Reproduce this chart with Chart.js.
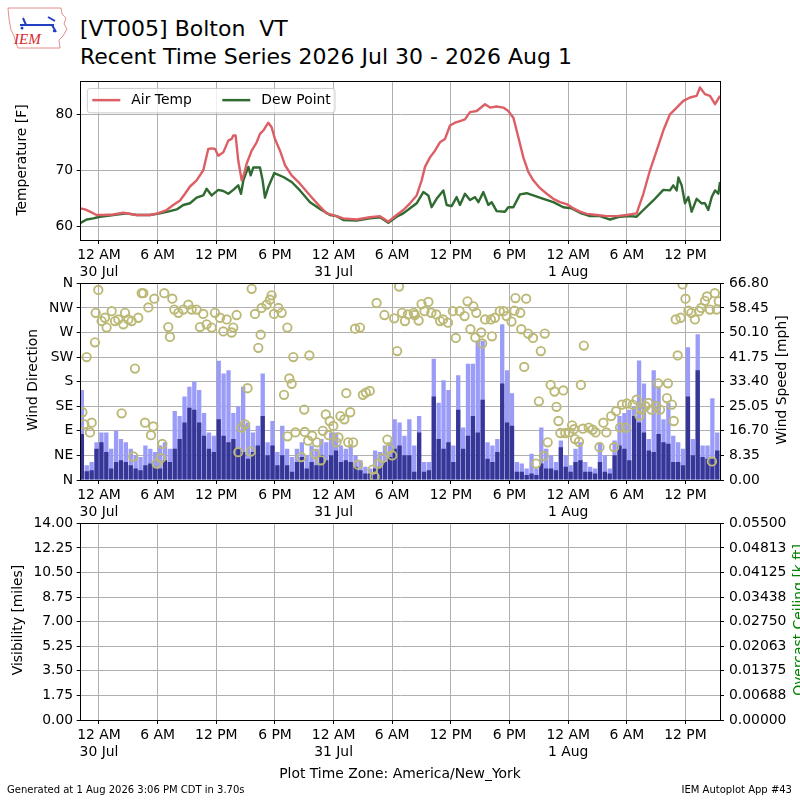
<!DOCTYPE html>
<html>
<head>
<meta charset="utf-8">
<script src="https://cdn.jsdelivr.net/npm/chart.js@4.4.1/dist/chart.umd.min.js"></script>
<style>
  body { margin: 0; background: #fff; width: 800px; height: 800px; position: relative; overflow: hidden; font-family: "DejaVu Sans", sans-serif; }
  canvas { position: absolute; left: 0; }
  .txt { position: absolute; white-space: pre; color: #000; line-height: 1; }
</style>
</head>
<body>
<svg style="position:absolute;left:6px;top:6px" width="64" height="46" viewBox="0 0 64 46">
  <path d="M2 2 L55 2 L56 8 L60 12 L58 18 L61 23 L57 30 L53 34 L54 42 L12 42 L10 37 L8 30 L5 24 L3 13 Z" fill="none" stroke="#e07070" stroke-width="0.8"/>
  <path d="M14 19 L48 19 M17 12 L20 19 M42 11 L49 15 M46 19 L50 26" stroke="#2040c0" stroke-width="2" fill="none"/>
  <circle cx="16" cy="22" r="1.5" fill="#2040c0"/>
  <circle cx="48" cy="25" r="1.2" fill="#2040c0"/>
  <text x="8" y="38" font-family="Liberation Serif" font-style="italic" font-size="15" fill="#d42a2a">IEM</text>
</svg>
<div class="txt" style="left:80px;top:18.1px;font-size:22px">[VT005] Bolton  VT</div>
<div class="txt" style="left:80px;top:45.7px;font-size:22px">Recent Time Series 2026 Jul 30 - 2026 Aug 1</div>
<canvas id="tempChart" width="800" height="220" style="top:70px"></canvas>
<canvas id="windChart" width="800" height="260" style="top:270px"></canvas>
<canvas id="visChart" width="800" height="290" style="top:510px"></canvas>
<div class="txt" style="left:0;width:800px;text-align:center;top:767px;font-size:13.9px">Plot Time Zone: America/New_York</div>
<div class="txt" style="left:7px;top:784.5px;font-size:10px">Generated at 1 Aug 2026 3:06 PM CDT in 3.70s</div>
<div class="txt" style="right:8px;top:784.5px;font-size:10px">IEM Autoplot App #43</div>
<script>
// x values are hours after 2026 Jul 30 12 AM (America/New_York)
const xMin = -1.87;
const xMax = 63.53;
const xTicks = [0, 6, 12, 18, 24, 30, 36, 42, 48, 54, 60];
const dayLabels = { 0: "30 Jul", 24: "31 Jul", 48: "1 Aug" };

// air temperature
const tempHours = [-1.88, -1.43, -0.92, -0.24, 0.44, 1.47, 2.49, 3.85, 5.22, 6.0, 6.92, 7.6, 8.29, 8.8, 9.31, 9.99,
  10.67, 11.18, 11.53, 11.87, 12.21, 12.72, 13.23, 13.57, 13.74, 13.98, 14.25, 14.6, 14.83, 15.11, 15.62, 16.13,
  16.47, 16.81, 17.32, 17.66, 18.0, 18.52, 19.03, 19.71, 20.56, 21.59, 22.61, 23.29, 23.97, 25.0, 26.36, 27.72,
  28.75, 29.6, 30.45, 31.13, 31.82, 32.5, 33.01, 33.35, 33.86, 34.37, 34.88, 35.4, 35.91, 36.42, 36.93, 37.44,
  37.95, 38.64, 39.49, 40.0, 40.68, 41.36, 41.87, 42.39, 42.9, 43.41, 43.92, 44.43, 45.12, 45.8, 46.48, 47.16,
  47.91, 48.53, 49.21, 49.89, 50.91, 51.94, 52.96, 53.98, 55.0, 55.69, 56.37, 57.05, 57.73, 58.41, 59.1, 59.78,
  60.46, 61.14, 61.48, 61.99, 62.51, 63.02, 63.53];
const tempF = [63.3, 63.1, 62.7, 62.1, 62.1, 62.2, 62.5, 62.1, 62.1, 62.4, 63.0, 63.9, 64.7, 65.9, 67.2, 68.3,
  70.1, 73.9, 74.0, 73.9, 72.7, 73.3, 75.4, 75.7, 76.3, 76.3, 71.8, 68.3, 69.4, 71.3, 73.6, 75.1,
  76.6, 77.2, 78.6, 77.8, 75.7, 73.6, 71.0, 69.2, 67.7, 65.6, 63.6, 62.4, 62.1, 61.5, 61.3, 61.7,
  61.9, 60.9, 62.1, 63.0, 64.2, 65.6, 68.3, 70.7, 72.4, 73.6, 75.1, 75.7, 78.1, 78.6, 78.9, 79.2,
  80.5, 80.7, 81.9, 81.3, 81.5, 81.3, 80.7, 79.5, 76.0, 72.4, 69.8, 68.3, 66.9, 65.9, 65.0, 64.4,
  64.0, 63.3, 62.7, 62.3, 62.1, 61.9, 61.9, 62.1, 62.4, 65.9, 70.1, 73.6, 77.2, 80.1, 81.3, 82.5,
  83.1, 83.4, 84.9, 83.7, 83.4, 81.9, 83.4];

// dew point
const dewHours = [-1.88, -1.26, -0.58, 0.1, 1.47, 2.83, 3.85, 5.22, 6.24, 7.26, 7.95, 8.63, 9.31, 9.99, 10.67, 11.01,
  11.53, 12.21, 12.72, 13.23, 13.74, 14.25, 14.53, 14.77, 15.28, 15.52, 15.79, 16.47, 16.74, 16.98, 17.32, 17.94,
  18.86, 19.71, 20.56, 21.59, 22.61, 23.63, 24.31, 25.0, 26.36, 27.72, 28.75, 29.6, 30.45, 31.13, 31.82, 32.5,
  33.18, 33.69, 34.03, 34.54, 35.23, 35.57, 36.08, 36.59, 36.93, 37.44, 37.95, 38.47, 38.81, 39.32, 39.83, 40.17,
  40.68, 41.53, 41.87, 42.39, 43.07, 43.75, 44.43, 45.46, 46.48, 47.5, 48.36, 49.21, 50.23, 51.25, 52.28, 53.3,
  54.32, 55.0, 55.69, 56.71, 57.73, 58.41, 58.75, 59.1, 59.27, 59.61, 59.95, 60.29, 60.63, 61.14, 61.65, 61.99,
  62.33, 62.68, 63.02, 63.36, 63.53];
const dewF = [60.7, 61.3, 61.5, 61.8, 62.1, 62.4, 62.1, 62.1, 62.4, 62.8, 63.1, 63.9, 64.2, 65.2, 65.6, 66.8,
  65.6, 66.6, 66.4, 65.9, 66.6, 67.4, 65.9, 68.3, 70.7, 69.2, 70.6, 70.6, 68.3, 65.2, 67.1, 69.6,
  68.9, 68.0, 66.5, 64.4, 63.2, 62.1, 61.9, 61.2, 61.1, 61.5, 61.7, 60.7, 61.8, 62.4, 63.3, 64.2,
  66.2, 65.6, 63.5, 65.0, 66.5, 63.9, 63.7, 65.3, 63.9, 65.9, 64.8, 65.3, 64.4, 66.2, 63.9, 64.4,
  62.8, 62.7, 63.5, 63.5, 65.8, 66.0, 65.6, 65.0, 64.4, 63.5, 63.3, 62.5, 61.9, 61.9, 61.3, 61.8,
  61.9, 61.8, 63.0, 64.7, 66.6, 66.5, 67.4, 66.5, 68.8, 67.4, 64.2, 65.3, 62.7, 65.0, 64.2, 64.2,
  63.0, 65.3, 66.5, 65.9, 68.0];

// wind, one bar every half hour starting at windStart
const windStart = -1.75;
const windStep = 0.5;
const gustMph = [30.6, 5.0, 6.1, 12.8, 16.1, 16.1, 10.6, 16.7, 13.9, 12.8, 10.6, 8.4, 7.8, 11.7, 10.6, 9.5, 11.7,
  12.8, 10.6, 23.4, 21.7, 28.4, 31.7, 33.4, 30.6, 22.8, 16.1, 15.0, 40.5, 36.2, 37.3, 22.8, 25.0, 31.7,
  19.5, 16.1, 18.4, 36.2, 12.8, 20.0, 9.5, 18.4, 10.6, 7.8, 10.6, 12.8, 8.4, 11.7, 10.6, 13.9, 12.8,
  16.1, 16.1, 11.7, 10.6, 11.7, 8.4, 6.7, 4.5, 3.9, 10.0, 9.5, 11.7, 12.8, 20.6, 19.5, 15.0,
  20.6, 11.7, 21.7, 6.1, 6.1, 41.2, 26.2, 33.9, 30.6, 11.7, 35.6, 17.8, 39.5, 39.5, 47.3, 47.3, 12.8,
  11.7, 13.9, 52.9, 37.3, 29.5, 6.1, 5.6, 3.9, 8.9, 3.9, 17.8, 10.6, 8.4, 6.1, 13.4, 8.4, 5.0,
  10.6, 12.8, 6.1, 4.5, 3.9, 12.8, 8.4, 3.9, 13.4, 21.7, 22.8, 23.9, 25.0, 40.6, 32.8, 13.9, 37.3,
  31.7, 20.6, 26.2, 15.0, 12.8, 10.6, 45.1, 13.9, 49.5, 11.7, 11.7, 27.8, 16.1];
const speedMph = [15.6, 3.0, 3.3, 10.6, 12.8, 9.5, 3.9, 6.1, 6.7, 6.1, 5.0, 3.9, 3.3, 5.0, 5.6, 4.5, 3.9,
  6.7, 6.1, 10.6, 13.9, 19.5, 24.5, 23.9, 19.5, 15.0, 10.6, 9.5, 20.6, 15.0, 12.8, 13.9, 10.6, 9.5,
  7.2, 9.5, 11.7, 21.7, 8.4, 11.7, 5.0, 8.4, 5.0, 2.8, 6.1, 7.8, 3.9, 6.1, 5.0, 8.4, 6.7,
  8.4, 10.0, 6.1, 6.7, 6.1, 4.5, 3.3, 2.2, 2.2, 3.9, 4.5, 6.1, 7.8, 10.6, 11.7, 8.4,
  8.4, 2.8, 16.1, 2.8, 3.3, 28.4, 13.9, 10.6, 12.8, 6.1, 23.9, 10.6, 15.0, 21.7, 16.1, 27.3, 7.2,
  6.1, 9.5, 32.8, 19.5, 18.4, 2.8, 2.8, 1.7, 2.2, 1.7, 5.6, 3.9, 3.9, 3.3, 11.1, 4.5, 2.8,
  6.1, 6.7, 2.8, 2.8, 2.2, 6.1, 2.8, 2.2, 8.4, 11.7, 10.6, 6.7, 21.7, 19.5, 16.1, 10.0, 9.5,
  15.6, 12.8, 12.3, 6.1, 6.1, 5.0, 28.4, 8.4, 37.3, 7.8, 7.2, 7.2, 10.0];

// wind direction (degrees)
const dirHours = [-1.7, -1.5, -1.26, -0.92, -0.75, -0.41, -0.34, -0.07, 0.27, 0.61, 0.78, 1.3, 1.64, 1.98, 2.32,
  2.49, 2.66, 3.0, 3.34, 3.51, 3.68, 4.02, 4.37, 4.54, 4.71, 5.05, 5.32, 5.56, 5.66, 5.9, 6.34, 6.48, 6.68,
  7.09, 7.26, 7.5, 7.71, 8.12, 8.63, 9.14, 9.48, 9.99, 10.33, 10.67, 11.01, 11.53, 11.87, 12.38, 12.72, 13.06,
  13.57, 13.74, 14.08, 14.25, 14.59, 14.93, 15.2, 15.52, 15.62, 15.96, 16.3, 16.54, 16.64, 17.15, 17.49, 17.66,
  17.91, 18.35, 18.69, 18.93, 19.27, 19.29, 19.47, 19.71, 19.88, 20.1, 20.7, 21.0, 21.05, 21.4, 21.52, 21.8,
  22.1, 22.3, 22.7, 22.9, 23.2, 23.5, 23.6, 23.97, 24.3, 24.5, 24.7, 25.1, 25.3, 25.5, 25.7, 26.0, 26.2, 26.5,
  26.7, 27.0, 27.3, 27.7, 28.0, 28.2, 28.4, 28.6, 29.0, 29.2, 29.5, 29.7, 30.0, 30.2, 30.5, 30.7, 31.0, 31.3,
  31.6, 32.2, 32.3, 32.7, 33.0, 33.3, 33.7, 34.0, 34.5, 34.9, 35.2, 35.7, 36.2, 36.5, 36.9, 37.4, 37.7, 38.0,
  38.3, 38.5, 38.6, 39.1, 39.2, 39.5, 40.1, 40.2, 40.5, 41.0, 41.4, 41.7, 42.2, 42.5, 42.6, 43.1, 43.2, 43.5,
  43.7, 43.9, 44.4, 44.7, 45.0, 45.2, 45.5, 45.6, 45.9, 46.2, 46.6, 46.8, 47.0, 47.2, 47.5, 47.7, 48.1, 48.4,
  48.6, 48.7, 49.1, 49.3, 49.5, 49.6, 50.1, 50.5, 50.8, 51.2, 51.6, 51.9, 52.4, 52.7, 52.9, 53.3, 53.5, 53.9,
  54.0, 54.6, 55.0, 55.3, 55.5, 55.9, 56.2, 56.5, 57.0, 57.2, 57.4, 58.1, 58.2, 58.6, 58.8, 59.0, 59.2, 59.5,
  59.7, 60.0, 60.3, 60.6, 60.96, 61.4, 61.6, 61.99, 62.2, 62.5, 62.7, 63.0, 63.2, 63.4];
const dirDeg = [124, 102, 225, 87, 105, 252, 306, 348, 291, 297, 279, 309, 291, 294, 122,
  285, 306, 294, 291, 43, 204, 297, 342, 342, 105, 316, 82, 98, 332, 30, 40, 66, 342,
  280, 262, 332, 312, 306, 312, 321, 312, 312, 280, 304, 285, 279, 306, 297, 272, 294,
  270, 279, 302, 51, 96, 102, 168, 52, 350, 304, 242, 266, 315, 321, 330, 338,
  304, 315, 306, 156, 279, 80, 186, 176, 225, 87, 42, 129, 88, 72, 228, 81,
  48, 69, 36, 90, 120, 82, 108, 99, 69, 78, 117, 111, 159, 69, 124, 69, 277, 28,
  279, 156, 160, 163, 19, 6, 324, 30, 40, 302, 74, 57, 45, 296, 236, 354, 306, 291,
  303, 306, 302, 292, 322, 309, 326, 306, 303, 291, 294, 288, 309, 260, 309, 300, 327, 276,
  318, 261, 306, 270, 250, 294, 294, 263, 297, 309, 309, 300, 290, 310, 333, 306, 276, 207,
  332, 268, 260, 30, 144, 236, 44, 268, 69, 174, 162, 134, 108, 86, 164, 86, 87, 100,
  93, 75, 70, 174, 94, 246, 96, 92, 87, 60, 105, 87, 117, 60, 126, 96, 138, 96,
  140, 138, 147, 118, 129, 135, 141, 129, 135, 177, 129, 150, 177, 138, 108, 294, 228, 297,
  358, 332, 310, 306, 294, 309, 315, 328, 336, 312, 34, 342, 312, 327];

// visibility: no reports in this period
const visHours = [];
const visMiles = [];

// axis ticks
const tempTicks = [60, 70, 80];
const dirTicks = [0, 45, 90, 135, 180, 225, 270, 315, 360];
const dirTickLabels = ["N", "NE", "E", "SE", "S", "SW", "W", "NW", "N"];
const speedTicks = [0, 8.35, 16.7, 25.05, 33.4, 41.75, 50.1, 58.45, 66.8];
const visTicks = [0, 1.75, 3.5, 5.25, 7, 8.75, 10.5, 12.25, 14];
const ceilTicks = [0, 0.006875, 0.01375, 0.020625, 0.0275, 0.034375, 0.04125, 0.048125, 0.055];
const ceilTickLabels = ["0.00000", "0.00688", "0.01375", "0.02063", "0.02750", "0.03438", "0.04125", "0.04813", "0.05500"];

const tempColor = "#dc5f66";
const dewColor = "#2f6a30";
const gustColor = "#9b9bf8";
const speedColor = "#363696";
const dirColor = "#bcb977";
const gridColor = "#b0b0b0";
const tickFont = { family: "DejaVu Sans", size: 13.9 };

Chart.defaults.font.family = "DejaVu Sans";

function hourLabel(v) {
  const hod = ((v % 24) + 24) % 24;
  let txt;
  if (hod === 0) txt = "12 AM";
  else if (hod === 12) txt = "12 PM";
  else if (hod < 12) txt = hod + " AM";
  else txt = (hod - 12) + " PM";
  return dayLabels[v] ? [txt, dayLabels[v]] : txt;
}

function xAxis(height, z) {
  return {
    type: "linear", min: xMin, max: xMax, offset: false, z: z || 0,
    grid: { color: gridColor, lineWidth: 1, tickColor: "#000", tickLength: 4, offset: false },
    border: { display: false },
    ticks: { color: "#000", font: tickFont, padding: 3, maxRotation: 0, autoSkip: false, callback: hourLabel },
    afterBuildTicks: s => { s.ticks = xTicks.map(v => ({ value: v })); },
    afterFit: s => { s.height = height; }
  };
}

function yAxis(pos, min, max, ticks, fmt, drawGrid, z) {
  return {
    type: "linear", position: pos, min: min, max: max, z: z || 0,
    grid: { display: true, drawOnChartArea: drawGrid, color: gridColor, lineWidth: 1, tickColor: "#000", tickLength: 4 },
    border: { display: false },
    ticks: { color: "#000", font: tickFont, padding: pos === "left" ? 3.5 : 5, callback: fmt },
    afterBuildTicks: s => { s.ticks = ticks.map(v => ({ value: v })); },
    afterFit: s => { s.width = pos === "left" ? 80.7 : 80; }
  };
}

// frame, rotated axis titles, in-plot legend
const decor = {
  id: "decor",
  afterDraw(chart, args, opts) {
    const ctx = chart.ctx;
    const a = chart.chartArea;
    ctx.save();
    ctx.strokeStyle = "#000";
    ctx.lineWidth = 1;
    const x0 = Math.floor(a.left) + 0.5, x1 = Math.floor(a.right) + 0.5;
    const y0 = Math.floor(a.top) + 0.5, y1 = Math.floor(a.bottom) + 0.5;
    ctx.strokeRect(x0, y0, x1 - x0, y1 - y0);

    ctx.font = "13.9px 'DejaVu Sans'";
    ctx.textAlign = "center";
    ctx.textBaseline = "middle";
    (opts.titles || []).forEach(t => {
      ctx.save();
      ctx.translate(t.x, t.y);
      ctx.rotate(-Math.PI / 2);
      ctx.fillStyle = t.color || "#000";
      ctx.fillText(t.text, 0, 0);
      ctx.restore();
    });

    if (opts.legend) {
      const lx = a.left + 6.6, ly = a.top + 6.6, lw = 247.7, lh = 24.4;
      ctx.beginPath();
      if (ctx.roundRect) ctx.roundRect(lx, ly, lw, lh, 3); else ctx.rect(lx, ly, lw, lh);
      ctx.fillStyle = "rgba(255,255,255,0.8)";
      ctx.fill();
      ctx.strokeStyle = "#cccccc";
      ctx.stroke();
      ctx.textAlign = "left";
      ctx.fillStyle = "#000";
      opts.legend.forEach((item, i) => {
        const bx = lx + 5 + i * 130;
        const cy = ly + 11.7;
        ctx.beginPath();
        ctx.moveTo(bx, cy);
        ctx.lineTo(bx + 28, cy);
        ctx.strokeStyle = item.color;
        ctx.lineWidth = 2.5;
        ctx.stroke();
        ctx.fillText(item.label, bx + 39, cy + 0.5);
      });
    }
    ctx.restore();
  }
};

const common = {
  responsive: false,
  animation: false,
  devicePixelRatio: 1,
  events: []
};

new Chart(document.getElementById("tempChart"), {
  type: "line",
  data: {
    datasets: [
      { label: "Air Temp", data: tempHours.map((h, i) => ({ x: h, y: tempF[i] })), borderColor: tempColor,
        borderWidth: 2.4, pointRadius: 0, tension: 0, borderJoinStyle: "round" },
      { label: "Dew Point", data: dewHours.map((h, i) => ({ x: h, y: dewF[i] })), borderColor: dewColor,
        borderWidth: 2.4, pointRadius: 0, tension: 0, borderJoinStyle: "round" }
    ]
  },
  options: Object.assign({}, common, {
    layout: { padding: { top: 10.7, right: 80, bottom: 10, left: 0 } },
    scales: {
      x: xAxis(40),
      y: yAxis("left", 57.64, 85.9, tempTicks, v => String(v), true)
    },
    plugins: {
      legend: { display: false },
      tooltip: { enabled: false },
      decor: {
        titles: [{ text: "Temperature [F]", x: 22, y: 90 }],
        legend: [{ label: "Air Temp", color: tempColor }, { label: "Dew Point", color: dewColor }]
      }
    }
  }),
  plugins: [decor]
});

const windHours = gustMph.map((_, i) => windStart + i * windStep);

new Chart(document.getElementById("windChart"), {
  type: "bar",
  data: {
    datasets: [
      { type: "line", label: "Wind Direction", data: dirHours.map((h, i) => ({ x: h, y: dirDeg[i] })),
        yAxisID: "yDir", showLine: false, pointStyle: "circle", pointRadius: 4.2, pointBorderWidth: 1.9,
        pointBorderColor: dirColor, pointBackgroundColor: "rgba(0,0,0,0)", order: 1 },
      { type: "bar", label: "Wind Speed", data: windHours.map((h, i) => ({ x: h, y: speedMph[i] })),
        yAxisID: "ySpd", backgroundColor: speedColor, barPercentage: 0.88, categoryPercentage: 1,
        grouped: false, borderWidth: 0, order: 2 },
      { type: "bar", label: "Wind Gust", data: windHours.map((h, i) => ({ x: h, y: gustMph[i] })),
        yAxisID: "ySpd", backgroundColor: gustColor, barPercentage: 0.88, categoryPercentage: 1,
        grouped: false, borderWidth: 0, order: 3 }
    ]
  },
  options: Object.assign({}, common, {
    layout: { padding: { top: 10, right: 0, bottom: 10, left: 0 } },
    scales: {
      x: xAxis(40, 1),
      yDir: yAxis("left", 0, 360, dirTicks, (v, i) => dirTickLabels[i], true, 1),
      ySpd: yAxis("right", 0, 66.8, speedTicks, v => v.toFixed(2), false)
    },
    plugins: {
      legend: { display: false },
      tooltip: { enabled: false },
      decor: {
        titles: [
          { text: "Wind Direction", x: 33, y: 110 },
          { text: "Wind Speed [mph]", x: 782, y: 110 }
        ]
      }
    }
  }),
  plugins: [decor]
});

new Chart(document.getElementById("visChart"), {
  type: "line",
  data: {
    datasets: [
      { label: "Visibility", data: visHours.map((h, i) => ({ x: h, y: visMiles[i] })), yAxisID: "yVis",
        borderColor: "#000", pointRadius: 0 }
    ]
  },
  options: Object.assign({}, common, {
    layout: { padding: { top: 10, right: 0, bottom: 0, left: 0 } },
    scales: {
      x: xAxis(80),
      yVis: yAxis("left", 0, 14, visTicks, v => v.toFixed(2), true),
      yCeil: yAxis("right", 0, 0.055, ceilTicks, (v, i) => ceilTickLabels[i], false)
    },
    plugins: {
      legend: { display: false },
      tooltip: { enabled: false },
      decor: {
        titles: [
          { text: "Visibility [miles]", x: 18, y: 110 },
          { text: "Overcast Ceiling [k ft]", x: 799, y: 110, color: "#008000" }
        ]
      }
    }
  }),
  plugins: [decor]
});
</script>
</body>
</html>
